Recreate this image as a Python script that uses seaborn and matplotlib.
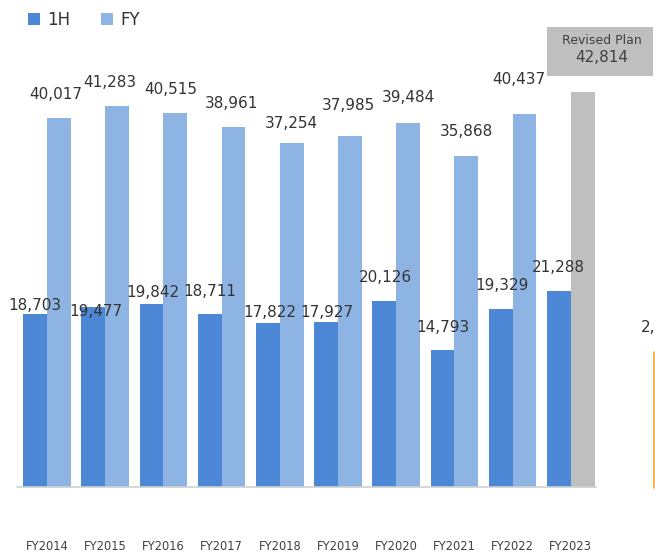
import matplotlib
matplotlib.use("Agg")
import matplotlib.pyplot as plt
import seaborn as sns
import pandas as pd
from matplotlib.patches import Patch, Rectangle
from matplotlib.lines import Line2D

# ---- data ----
years = ["FY2014", "FY2015", "FY2016", "FY2017", "FY2018",
         "FY2019", "FY2020", "FY2021", "FY2022", "FY2023"]
h1_values = [18703, 19477, 19842, 18711, 17822, 17927, 20126, 14793, 19329, 21288]
fy_values = [40017, 41283, 40515, 38961, 37254, 37985, 39484, 35868, 40437, 42814]
series_names = ["1H", "FY"]
plan_label = "Revised Plan"

# ---- label placement tweaks (pixels) ----
h1_dx = [0, 3, 1, 0, 2, 1, 1, 0, 1, 0]
h1_dy = [9, -4, 11, 23, 10, 9, 24, 23, 23, 23]
fy_dx = [-3, -7, -5, -2, 0, -1, 0, 0, -6]
fy_dy = [23, 23, 24, 24, 20, 31, 25, 24, 34]

c_1h = "#4d88d6"
c_fy = "#8eb4e3"
c_plan = "#bfbfbf"
txt = "#333333"

df = pd.DataFrame({
    "year": years * 2,
    "series": [series_names[0]] * len(years) + [series_names[1]] * len(years),
    "value": h1_values + fy_values,
})

sns.set_style("white")
plt.rcParams["font.family"] = ["DejaVu Sans"]

W, H = 655, 555
fig = plt.figure(figsize=(W / 100, H / 100), dpi=100)
ax = fig.add_axes([17 / W, 68 / H, 579 / W, 443 / H])

sns.barplot(data=df, x="year", y="value", hue="series", order=years,
            hue_order=series_names, palette=[c_1h, c_fy], width=0.82,
            saturation=1, ax=ax, legend=False, errorbar=None)

bars_1h = ax.containers[0]
bars_fy = ax.containers[1]
bars_fy[len(years) - 1].set_facecolor(c_plan)
for p in list(bars_1h) + list(bars_fy):
    p.set_edgecolor("none")

ax.set_ylim(0, 48000)
ax.set_xlim(-0.515, 9.433)
for s in ["top", "left", "right"]:
    ax.spines[s].set_visible(False)
ax.spines["bottom"].set_color("#d0d0d0")
ax.spines["bottom"].set_linewidth(1.2)
ax.set_yticks([])
ax.set_xlabel("")
ax.set_ylabel("")
ax.tick_params(axis="x", length=0, pad=38.5, labelsize=8.3, labelcolor="#404040")

# value labels
for i, p in enumerate(bars_1h):
    x = p.get_x() + p.get_width() / 2
    ax.annotate(f"{h1_values[i]:,}", (x, p.get_height()),
                xytext=(h1_dx[i], h1_dy[i]), textcoords="offset pixels",
                ha="center", va="center", fontsize=11, color=txt)
for i, p in enumerate(list(bars_fy)[:-1]):
    x = p.get_x() + p.get_width() / 2
    ax.annotate(f"{fy_values[i]:,}", (x, p.get_height()),
                xytext=(fy_dx[i], fy_dy[i]), textcoords="offset pixels",
                ha="center", va="center", fontsize=11, color=txt)

# revised plan callout box
fig.patches.append(Rectangle((547 / W, 1 - 76 / H), 106 / W, 49 / H,
                             transform=fig.transFigure, facecolor=c_plan,
                             edgecolor="none", zorder=0))
fig.text(602 / W, 1 - 40 / H, plan_label, ha="center", va="center",
         fontsize=9, color="#404040")
fig.text(602 / W, 1 - 58 / H, f"{fy_values[-1]:,}", ha="center", va="center",
         fontsize=11, color="#404040")

# legend
handles = [Patch(facecolor=c_1h, edgecolor="none"),
           Patch(facecolor=c_fy, edgecolor="none")]
fig.legend(handles, series_names, loc="center left",
           bbox_to_anchor=(28 / W, 1 - 20 / H), ncol=2, frameon=False,
           fontsize=12, handlelength=0.72, handleheight=0.72,
           handletextpad=0.45, columnspacing=1.8, borderpad=0,
           borderaxespad=0, labelcolor=txt)

# fragments of the neighbouring chart at the right edge
fig.text(641 / W, 1 - 327 / H, "2,", ha="left", va="center",
         fontsize=11, color=txt)
fig.add_artist(Line2D([654 / W, 654 / W], [1 - 352 / H, 1 - 488 / H],
                      transform=fig.transFigure, color="#f4a43a", lw=1.2))

fig.savefig("out.png", dpi=100)
